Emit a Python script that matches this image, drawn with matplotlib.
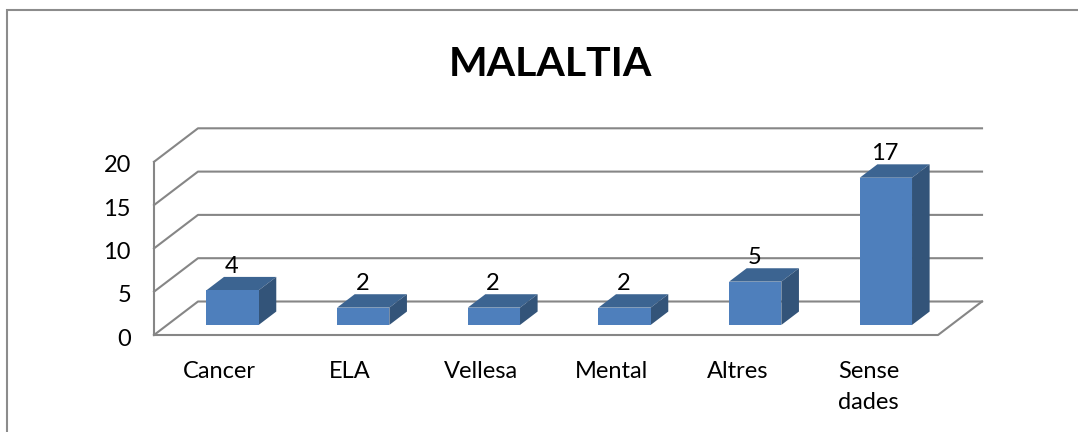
import matplotlib
matplotlib.use("Agg")
from matplotlib import pyplot as plt
from matplotlib.patches import Polygon

categories = ["Cancer", "ELA", "Vellesa", "Mental", "Altres", "Sense\ndades"]
values = [4, 2, 2, 2, 5, 17]
yticks = [0, 5, 10, 15, 20]
title = "MALALTIA"

W, H = 1078, 432
CATW = 130.67   # pixels for one category on the front edge
UNIT = 8.66     # pixels for one y unit
X0, Y0 = 154, 335   # front left corner of floor, pixels

# depth of the fake 3d box, in data units
DX = 44 / CATW
DY = 33.5 / UNIT
BAR_W = 0.4
D1, D2 = 0.30, 0.70
GRID = "#868686"


def pr(x, y, d=0.0):
    return (x + d * DX, y + d * DY)


plt.rcParams["font.family"] = ["Lato", "DejaVu Sans"]
fig = plt.figure(figsize=(W / 100, H / 100), dpi=100)
ax = fig.add_axes([0, 0, 1, 1])
ax.set_xlim(-0.5 - X0 / CATW, -0.5 + (W - X0) / CATW)
ax.set_ylim((Y0 - H) / UNIT, Y0 / UNIT)
ax.axis("off")

xa, xb = -0.5, len(categories) - 0.5

# chart frame, open at the bottom
fx = ax.get_xlim()
fy = ax.get_ylim()
left = fx[0] + 7 / CATW
top = fy[1] - 10 / UNIT
ax.plot([left, left, fx[1]], [fy[0], top, top], color="#8c8c8c", lw=1.5, solid_joinstyle="miter")

# walls
for t in yticks:
    x1, y1 = pr(xa, t, 0)
    x2, y2 = pr(xa, t, 1)
    x3, y3 = pr(xb, t, 1)
    ax.plot([x1, x2, x3], [y1, y2, y3], color=GRID, lw=1.5, zorder=1)
ax.plot([xa, xa], [yticks[0], yticks[-1]], color=GRID, lw=1.5, zorder=1)
x1, y1 = pr(xb, 0, 0)
x2, y2 = pr(xb, 0, 1)
ax.plot([xa, xb, x2], [0, 0, y2], color=GRID, lw=1.5, zorder=1)

# bars
for i, v in enumerate(values):
    l, r = i - BAR_W / 2, i + BAR_W / 2
    top_face = [pr(l, v, D1), pr(r, v, D1), pr(r, v, D2), pr(l, v, D2)]
    side_face = [pr(r, 0, D1), pr(r, 0, D2), pr(r, v, D2), pr(r, v, D1)]
    ax.add_patch(Polygon(top_face, closed=True, fc="#3c6491", ec="none", zorder=3))
    ax.add_patch(Polygon(side_face, closed=True, fc="#335479", ec="none", zorder=3))
    bx, by = pr(i, 0, D1)
    ax.bar(bx, v, bottom=by, width=BAR_W, color="#4e7fbc", zorder=4)
    lx, ly = pr(i, v, D2)
    ax.text(bx - 1 / CATW, ly, str(v), ha="center", va="bottom", fontsize=17, color="black", zorder=5)

# tick labels
for t in yticks:
    ax.text(xa - 23 / CATW, t - 4 / UNIT, str(t), ha="right", va="center", fontsize=17, color="black")
for i, c in enumerate(categories):
    ax.text(i - (0.03 if i >= 4 else 0), -26 / UNIT, c, ha="center", va="top", fontsize=17, color="black", linespacing=1.6)

ax.text(fx[0] + 550 / CATW, fy[1] - 65 / UNIT, title, ha="center", va="center",
        fontsize=29.5, fontweight="bold", color="black")

fig.savefig("out.png", dpi=100)
